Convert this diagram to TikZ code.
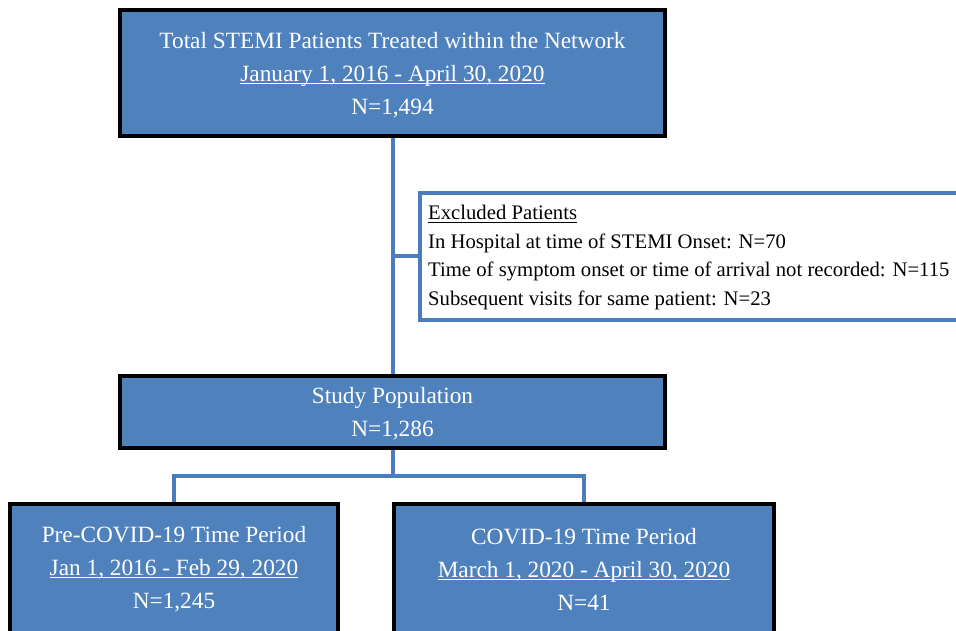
\documentclass[tikz,border=0pt]{standalone}
\usepackage{fontspec}
\setmainfont{Liberation Serif}
\usetikzlibrary{backgrounds}
\definecolor{boxblue}{HTML}{4F81BD}
\definecolor{lineblue}{HTML}{4A7DBA}
\newcommand{\myul}[1]{\setbox0\hbox{#1}\rlap{\rule[-3.2pt]{\wd0}{1pt}}\box0}
\tikzset{
  bluebox/.style={draw=black, line width=4pt, fill=boxblue, inner sep=0pt},
  boxtext/.style={text=white, align=center, inner sep=0pt, yshift=-2pt, font=\fontsize{23.3}{33}\selectfont},
  exclbox/.style={draw=lineblue, line width=4pt, fill=white, inner sep=0pt},
  excltext/.style={text=black, align=left, inner sep=0pt, anchor=west, yshift=-2pt, font=\fontsize{20.7}{28.4}\selectfont},
  conn/.style={draw=lineblue, line width=4pt}
}
\begin{document}
\begin{tikzpicture}[x=1pt,y=1pt]
\useasboundingbox (0,0) rectangle (956,630);
\clip (0,0) rectangle (956,630);
\node[bluebox, minimum width=545, minimum height=126] (top) at (392.5,557) {};
\node[bluebox, minimum width=545, minimum height=72] (study) at (392.5,218) {};
\node[exclbox, minimum width=555, minimum height=127] (excl) at (697.5,373.5) {};
\node[bluebox, minimum width=328, minimum height=156] (left) at (174,48) {};
\node[bluebox, minimum width=380, minimum height=156] (right) at (584,48) {};
\begin{scope}[on background layer]
\draw[conn] (top.south) -- (study.north);
\draw[conn] (top.south |- excl.west) -- (excl.west);
\draw[conn] (study.south) -- ++(0,-26) coordinate (br) -| (left.north);
\draw[conn] (br) -| (right.north);
\end{scope}
\node[boxtext] (toptext) at (top.center) {Total STEMI Patients Treated within the Network\\\myul{January 1, 2016 - April 30, 2020}\\N=1,494};
\node[boxtext] (studytext) at (study.center) {Study Population\\N=1,286};
\node[boxtext] (lefttext) at (174,63) {Pre-COVID-19 Time Period\\\myul{Jan 1, 2016 - Feb 29, 2020}\\N=1,245};
\node[boxtext] (righttext) at (584,63) {COVID-19 Time Period\\\myul{March 1, 2020 - April 30, 2020}\\N=41};
\node[excltext] (excltext) at (428,374.5) {\myul{Excluded Patients}\\In Hospital at time of STEMI Onset: N=70\\Time of symptom onset or time of arrival not recorded: N=115\\Subsequent visits for same patient: N=23};
\end{tikzpicture}
\end{document}
